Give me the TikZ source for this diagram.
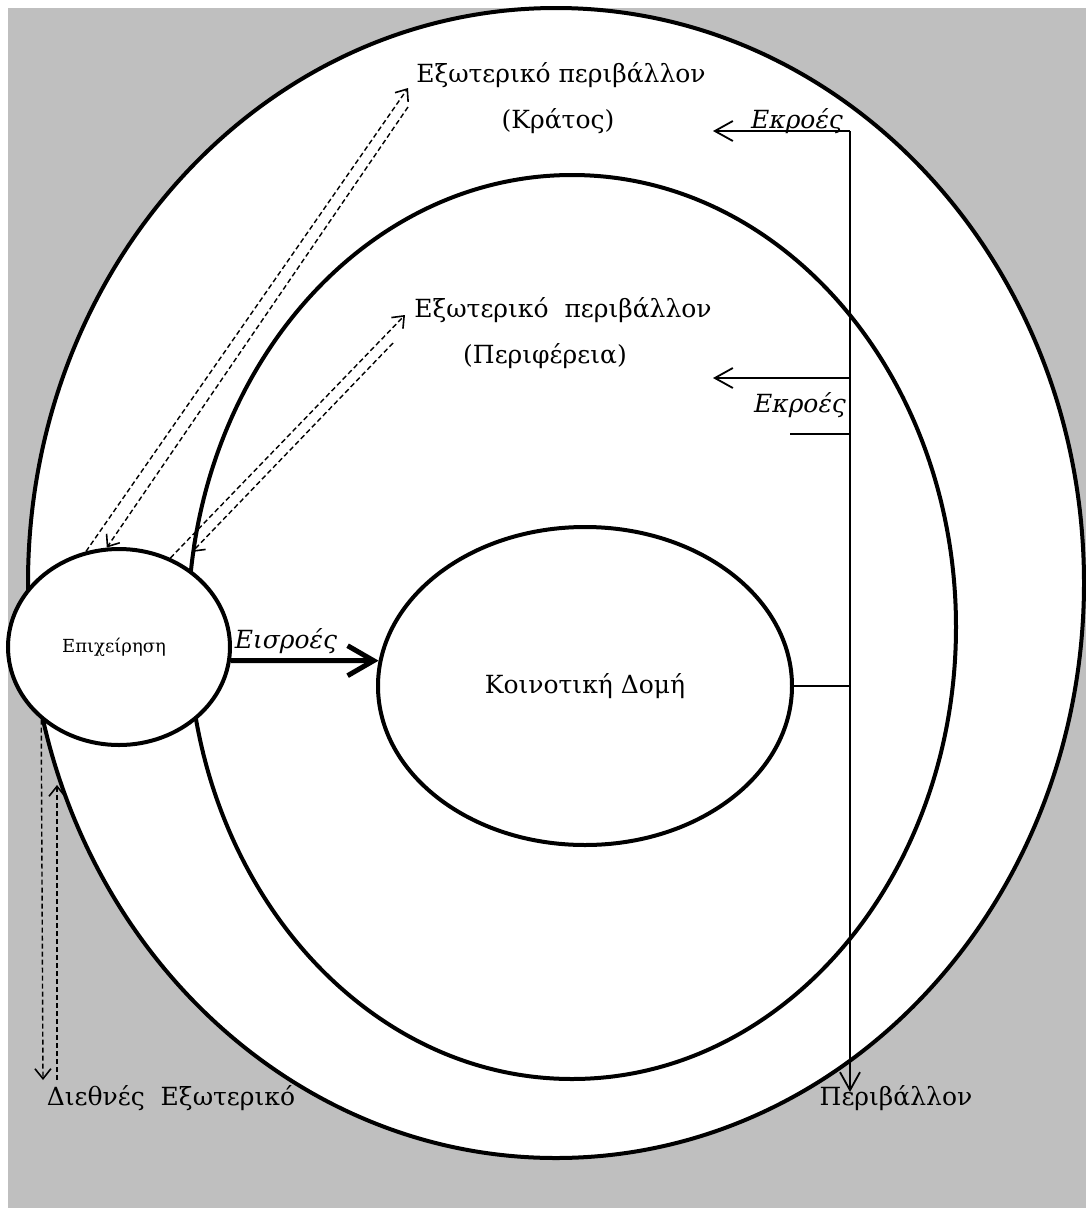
\documentclass[tikz,border=0pt]{standalone}
\usepackage{fontspec}
\setmainfont{DejaVu Serif}
\usetikzlibrary{positioning,shapes.geometric,arrows.meta}
\definecolor{envgray}{RGB}{191,191,191}
\tikzstyle{region}=[draw,ellipse,fill=white,line width=4pt,inner sep=0pt]
\tikzstyle{txt}=[inner sep=0pt,anchor=base,font=\fontsize{25}{30}\selectfont]
\tikzstyle{flowtxt}=[txt,font=\fontsize{25}{30}\selectfont\itshape]
\tikzstyle{flow}=[line width=1.8pt,->]
\tikzstyle{exchange}=[line width=1.4pt,dash pattern=on 5pt off 3pt,-{Straight Barb[length=10pt,width=16pt,line width=1.6pt]}]
\tikzstyle{inflow}=[line width=5pt,-{Straight Barb[length=26pt,width=30pt]}]
\newcommand{\newRegion}[4]{\node[region,#3](#1) at #4 {#2};}
\newcommand{\newFlow}[3]{\draw[#3] (#1) -- (#2);}

\begin{document}
\begin{tikzpicture}[x=1pt,y=-1pt,
      >={Straight Barb[length=18pt,width=20pt]},
      line cap=butt  %pixels as points, y downwards
      ]
      \fill[white] (0,0) rectangle (1086,1208);
      \fill[envgray] (8,8) rectangle (1086,1208);
      \useasboundingbox (0,0) rectangle (1086,1208);

      % regions
      \newRegion{kratos}{}{minimum width=1056pt,minimum height=1150pt}{(556,583)}
      \newRegion{perifereia}{}{minimum width=768pt,minimum height=904pt}{(572,627)}
      \newRegion{domi}{\fontsize{25}{30}\selectfont Κοινοτική Δομή}{minimum width=414pt,minimum height=318pt}{(585,686)}
      \newRegion{epix}{\fontsize{18}{22}\selectfont Επιχείρηση\hspace*{10pt}}{minimum width=222pt,minimum height=196pt}{(119,647)}

      \node[txt] (kratosLbl) at (561,82) {Εξωτερικό περιβάλλον};
      \node[txt] (kratosSub) at (558,128) {(Κράτος)};
      \node[txt] (perLbl) at (563,317) {Εξωτερικό\ \ περιβάλλον};
      \node[txt] (perSub) at (545,363) {(Περιφέρεια)};
      \node[flowtxt] (ekroesA) at (797,128) {Εκροές};
      \node[flowtxt] (ekroesB) at (800,412) {Εκροές};
      \node[flowtxt] (eisroes) at (286,648) {Εισροές};
      \node[txt] (diethnes) at (171,1105) {Διεθνές\ \ Εξωτερικό};
      \node[txt] (perivallon) at (896,1105) {Περιβάλλον};

      % outputs
      \coordinate (outTop) at (850,131);
      \coordinate (outMid) at (850,378);
      \coordinate (outEnd) at (850,1092);
      \coordinate (kratosIn) at (713,131);
      \coordinate (perIn) at (713,378);
      \coordinate (tickL) at (790,434);
      \coordinate (tickR) at (850,434);
      \newFlow{outTop}{outEnd}{flow}
      \newFlow{outTop}{kratosIn}{flow}
      \newFlow{outMid}{perIn}{flow}
      \newFlow{tickL}{tickR}{line width=1.8pt}
      \newFlow{domi.east}{domi.east -| outTop}{line width=1.8pt}

      % input
      \newFlow{epix.-7}{domi.173}{inflow}

      % exchanges
      \coordinate (kTipA) at (408,88);
      \coordinate (kTailB) at (408,107);
      \coordinate (pTipA) at (405,315);
      \coordinate (pTailB) at (393,343);
      \coordinate (pTipB) at (192,552);
      \coordinate (dTipA) at (43,1080);
      \coordinate (dTailB) at (57,1080);
      \coordinate (dTipB) at (57,785);
      \newFlow{epix.109}{kTipA}{exchange}
      \newFlow{kTailB}{epix.97}{exchange}
      \newFlow{epix.60}{pTipA}{exchange}
      \newFlow{pTailB}{pTipB}{exchange}
      \newFlow{epix.223}{dTipA}{exchange}
      \newFlow{dTailB}{dTipB}{exchange}
\end{tikzpicture}
\end{document}
